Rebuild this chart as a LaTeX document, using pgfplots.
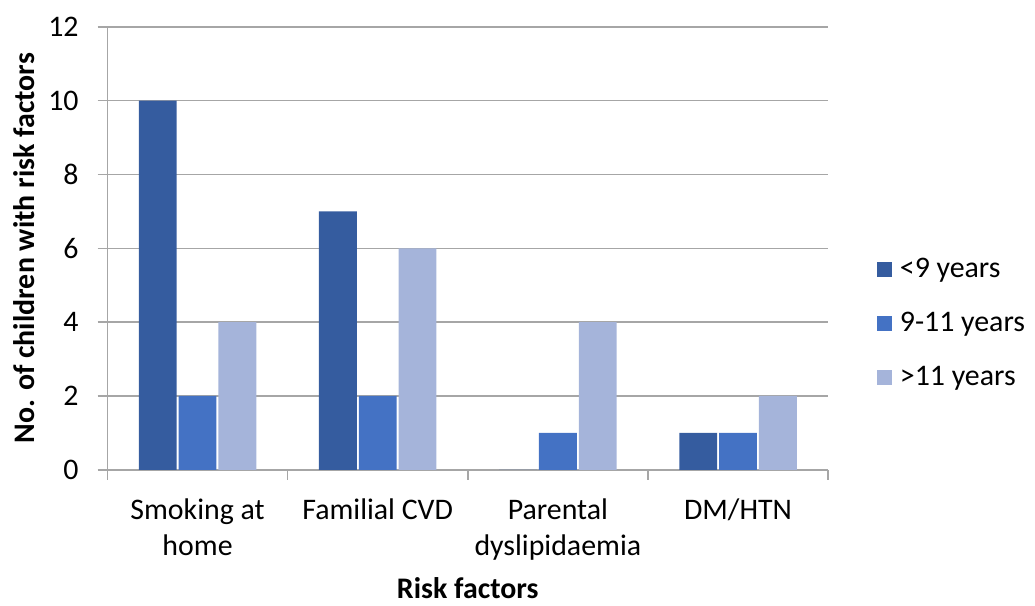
\documentclass[border=0pt]{standalone}
\usepackage{fontspec}
\setmainfont{Carlito}
\usepackage{pgfplots}
\pgfplotsset{compat=1.18}
\definecolor{c1}{HTML}{355C9F}
\definecolor{c2}{HTML}{4472C4}
\definecolor{c3}{HTML}{A5B4DA}
\definecolor{gridc}{HTML}{A6A6A6}
\begin{document}
\begin{tikzpicture}
\begin{axis}[
  scale only axis, width=362pt, height=222.5pt,
  ybar=1pt, bar width=0.21,
  xmin=-0.5, xmax=3.5, ymin=0, ymax=12,
  enlargelimits=false,
  ytick={0,2,...,12},
  xtick={-0.5,0.5,1.5,2.5,3.5}, xticklabels={},
  extra x ticks={0,1,2,3},
  extra x tick labels={{Smoking at\\home},{Familial CVD},{Parental\\dyslipidaemia},{DM/HTN}},
  extra x tick style={tick style={draw=none}},
  axis x line*=bottom, axis y line*=left,
  axis line style={-, draw=gridc, line width=0.75pt},
  ymajorgrids, grid style={draw=gridc, line width=0.75pt},
  tick align=outside, major tick length=5pt,
  tick style={draw=gridc, line width=0.75pt},
  /pgf/number format/assume math mode=true,
  every tick label/.append style={font=\fontsize{15}{18}\selectfont},
  xticklabel style={align=center, yshift=-6pt},
  yticklabel style={xshift=-6pt},
  ylabel={\textbf{No. of children with risk factors}},
  xlabel={\textbf{Risk factors}},
  xlabel style={yshift=3pt},
  label style={font=\fontsize{15}{18}\selectfont},
  legend style={draw=none, at={(1.059,0.33)}, anchor=west, row sep=12pt,
    font=\fontsize{15}{18}\selectfont},
  legend cell align=left,
  sq/.style={legend image code/.code={\fill[##1] (0pt,-3.75pt) rectangle (7.5pt,3.75pt);\path (9.5pt,0pt);}},
]
\addplot[fill=c1, draw=none, sq] coordinates {(0,10) (1,7) (2,0) (3,1)};
\addplot[fill=c2, draw=none, sq] coordinates {(0,2) (1,2) (2,1) (3,1)};
\addplot[fill=c3, draw=none, sq] coordinates {(0,4) (1,6) (2,4) (3,2)};
\legend{<9 years, 9-11 years, >11 years}
\end{axis}
\path (current axis.south west) ++(-54pt,-67pt);
\path (current axis.north east) ++(101.5pt,13.5pt);
\end{tikzpicture}
\end{document}
